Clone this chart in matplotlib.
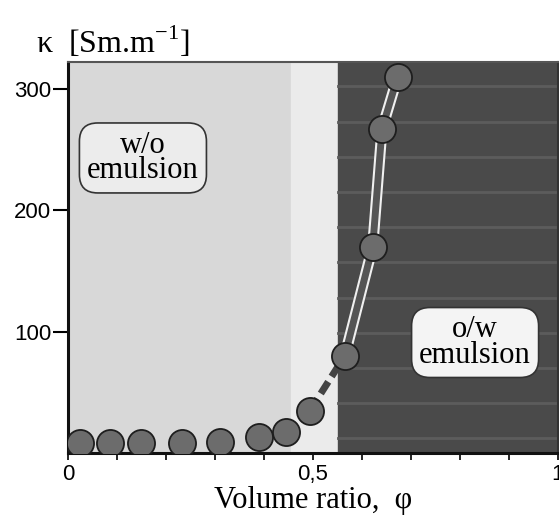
import numpy as np
import matplotlib
matplotlib.use('Agg')
from matplotlib import pyplot as plt
import matplotlib.patheffects as pe

plt.rcParams['font.family'] = ['Liberation Serif', 'DejaVu Serif']
plt.rcParams['mathtext.fontset'] = 'custom'
plt.rcParams['mathtext.rm'] = 'Liberation Serif'

# volume ratio phi and conductivity kappa
phi = [0.024, 0.086, 0.149, 0.233, 0.310, 0.390, 0.445, 0.494, 0.565, 0.622, 0.641, 0.673]
kappa = [8, 8, 8, 8, 9, 13, 17, 35, 80, 170, 267, 310]

# phase regions along phi
wo_end = 0.455
ow_start = 0.551

x_ticks = [0, 0.5, 1]
x_ticklabels = ['0', '0,5', '1']
y_ticks = [100, 200, 300]

fig = plt.figure(figsize=(5.59, 5.17), dpi=100)
ax = fig.add_axes([0.1216, 0.1238, 0.8764, 0.7562])
ax.set_xlim(0, 1)
ax.set_ylim(0, 322)

ax.axvspan(0, wo_end, color='#d8d8d8', zorder=0)
ax.axvspan(wo_end, ow_start, color='#ebebeb', zorder=0)
ax.axvspan(ow_start, 1, color='#4a4a4a', zorder=0)
# faint horizontal streaks in the dark region
for yy in np.arange(12, 322, 29):
    ax.plot([ow_start, 1], [yy, yy], color='#5c5c5c', lw=2, zorder=1)

# dashed segment before inversion
ax.plot(phi[7:9], kappa[7:9], color='#444444', lw=5, ls=(0, (2, 0.9)),
        solid_capstyle='butt', zorder=2)
# hollow bar segment after inversion
ax.plot(phi[8:], kappa[8:], color='#555555', lw=5, zorder=2,
        path_effects=[pe.Stroke(linewidth=8, foreground='#f0f0f0'), pe.Normal()])

ax.plot(phi, kappa, ls='none', marker='o', ms=19.5, mfc='#6c6c6c',
        mec='#1e1e1e', mew=1.3, zorder=3)

box = dict(boxstyle='round,pad=0.25,rounding_size=0.6', fc='#ececec',
           ec='#333333', lw=1.2)
ax.text(0.153, 243, 'w/o\nemulsion', ha='center', va='center', fontsize=22,
        linespacing=0.85, bbox=box, zorder=4)
box2 = dict(box, fc='#f4f4f4')
ax.text(0.831, 91, 'o/w\nemulsion', ha='center', va='center', fontsize=22,
        linespacing=0.85, bbox=box2, zorder=4)

ax.set_xticks(x_ticks)
ax.set_xticklabels(x_ticklabels, family='Liberation Sans', fontsize=16)
ax.set_xticks(np.arange(0.1, 1.0, 0.1), minor=True)
ax.set_yticks(y_ticks)
ax.set_yticklabels([str(v) for v in y_ticks], family='Liberation Sans', fontsize=16)
ax.tick_params(axis='y', direction='out', length=11, width=1.5, pad=1)
ax.tick_params(axis='x', which='both', direction='out', length=5, width=1.2, pad=3)

for s in ['left', 'bottom']:
    ax.spines[s].set_linewidth(2.2)
    ax.spines[s].set_color('#111111')
ax.spines['top'].set_color('#555555')
ax.spines['top'].set_linewidth(1.5)
ax.spines['right'].set_color('#333333')
ax.spines['right'].set_linewidth(1.5)

ax.set_xlabel('Volume ratio,  φ', fontsize=22, labelpad=1)
fig.text(0.065, 0.918, r'κ  [Sm.m$^{-1}$]', fontsize=23, va='center', ha='left')

fig.savefig('out.png', dpi=100)
